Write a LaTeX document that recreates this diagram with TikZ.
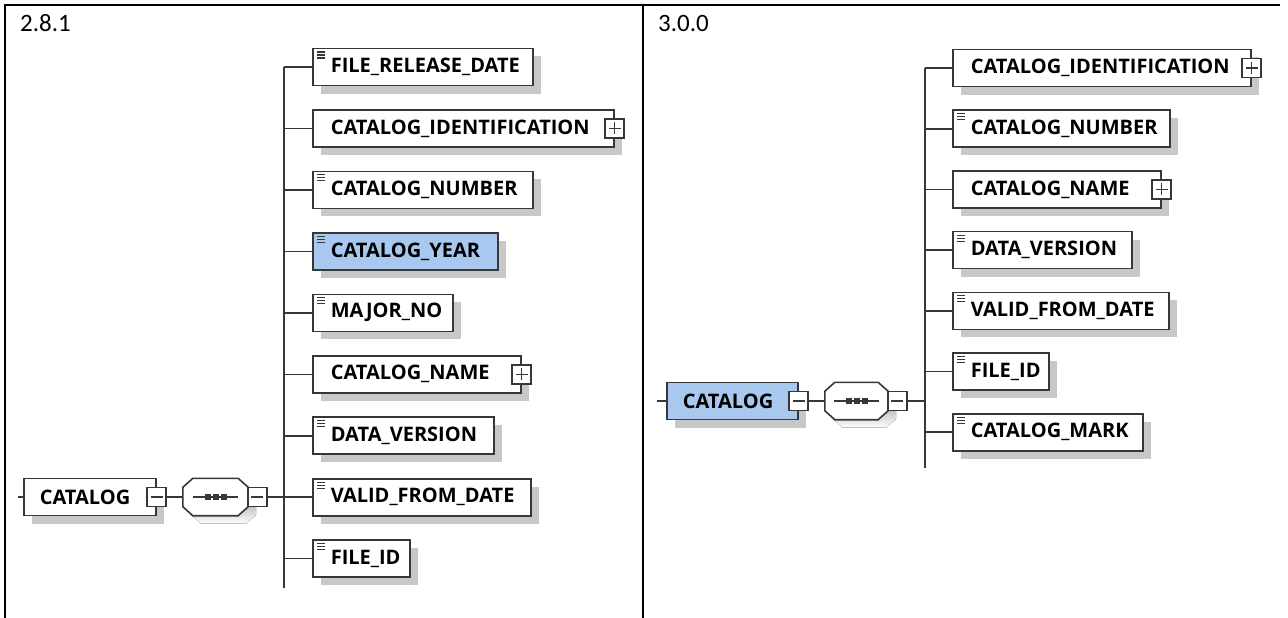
\documentclass[tikz,border=0pt]{standalone}
\usepackage{fontspec}
\setmainfont{Carlito}
\newfontfamily\elemfamily{Open Sans}
\usetikzlibrary{shadows}
\uchyph=0
\hyphenpenalty=10000
\definecolor{edge}{RGB}{55,55,55}
\definecolor{hl}{RGB}{168,200,240}
\definecolor{shade}{RGB}{200,200,200}
% octagon outline around node #1, shifted by (#2,#3)
\newcommand\octpath[3]{([xshift=#2+10pt,yshift=#3]#1.north west) -- ([xshift=#2-10pt,yshift=#3]#1.north east) -- ([xshift=#2,yshift=#3-9pt]#1.north east) -- ([xshift=#2,yshift=#3+9pt]#1.south east) -- ([xshift=#2-10pt,yshift=#3]#1.south east) -- ([xshift=#2+10pt,yshift=#3]#1.south west) -- ([xshift=#2,yshift=#3+9pt]#1.south west) -- ([xshift=#2,yshift=#3-9pt]#1.north west) -- cycle}
\newcommand\seqdraw[1]{%
  \fill[shade] \octpath{#1}{8pt}{-8pt};
  \filldraw[fill=white, draw=edge, line width=1.6] \octpath{#1}{0pt}{0pt};
  \draw[line width=1.5, edge] ([xshift=-22.5pt]#1.center) -- ([xshift=22.5pt]#1.center);
  \foreach \d in {-8,0,8}
    \fill[edge] ([xshift=\d pt-3pt,yshift=-3pt]#1.center) rectangle ([xshift=\d pt+3pt,yshift=3pt]#1.center);}
\tikzset{
  every picture/.style={x=1pt,y=-1pt},
  conn/.style={draw=edge, line width=1.6},
  frame/.style={draw=black, line width=2.4},
  title/.style={anchor=base west, inner sep=0, font=\fontsize{25}{30}\selectfont},
  shadowed/.style={drop shadow={shadow xshift=8pt, shadow yshift=-8pt, fill=shade, opacity=1}},
  elem/.style={draw=edge, line width=1.6, fill=white, minimum height=37, inner ysep=0,
    inner xsep=18, align=left, anchor=west, shadowed,
    font=\elemfamily\bfseries\fontsize{20}{22}\selectfont},
  root/.style={elem, inner xsep=16},
  hilite/.style={fill=hl},
  doc/.style={path picture={
    \foreach \k in {3.5,6.5,9.5}
      \draw[line width=1.1, edge] ([xshift=4pt,yshift=-\k pt]path picture bounding box.north west) -- ++(8pt,0);}},
  pmbox/.style={draw=edge, fill=white, line width=1.5, minimum size=19, inner sep=0},
  minus/.style={pmbox, path picture={
    \draw[line width=1.2, edge] ([xshift=3.5pt]path picture bounding box.west) -- ([xshift=-3.5pt]path picture bounding box.east);}},
  plus/.style={pmbox, path picture={
    \draw[line width=1.2, edge] ([xshift=3.5pt]path picture bounding box.west) -- ([xshift=-3.5pt]path picture bounding box.east);
    \draw[line width=1.2, edge] ([yshift=3.5pt]path picture bounding box.south) -- ([yshift=-3.5pt]path picture bounding box.north);}},
  seq/.style={draw=none, minimum width=65, minimum height=37, inner sep=0},
}
\begin{document}
\begin{tikzpicture}
\useasboundingbox (0,0) rectangle (1288,618);
% table frame
\draw[frame] (5,618) -- (5,5) -- (1280,5);
\draw[frame] (643,5) -- (643,618);
\node[title] (t1) at (20,32) {2.8.1};
\node[title] (t2) at (658,32) {3.0.0};

% ---------------- left panel (2.8.1)
\coordinate (lbtop) at (284,67);
\coordinate (lbbot) at (284,588);
\coordinate (lbj) at (284,497);
\draw[conn] (lbtop) -- (lbbot);

\node[elem, doc, text width=184pt] (l1) at (312,67) {FILE\_RELEASE\_DATE};
\node[elem, text width=265pt] (l2) at (312,128.4) {CATALOG\_IDENTIFICATION};
\node[plus] (l2p) at (l2.east) {};
\node[elem, doc, text width=184pt] (l3) at (312,189.9) {CATALOG\_NUMBER};
\node[elem, doc, hilite, text width=149pt] (l4) at (312,251.4) {CATALOG\_YEAR};
\node[elem, doc, text width=104pt] (l5) at (312,312.8) {MAJOR\_NO};
\node[elem, text width=172pt] (l6) at (312,374.3) {CATALOG\_NAME};
\node[plus] (l6p) at (l6.east) {};
\node[elem, doc, text width=145pt] (l7) at (312,435.7) {DATA\_VERSION};
\node[elem, doc, text width=182pt] (l8) at (312,497.2) {VALID\_FROM\_DATE};
\node[elem, doc, text width=61pt] (l9) at (312,558.6) {FILE\_ID};
\foreach \n in {l1,l2,l3,l4,l5,l6,l7,l8,l9}
  \draw[conn] (\n.west) -- (\n.west -| lbtop);

\node[root, text width=100pt] (lcat) at (23,497) {CATALOG};
\coordinate (lstub) at (18,497);
\draw[conn] (lstub) -- (lcat.west);
\node[minus] (lcatm) at (lcat.east) {};
\node[seq] (lseq) at (215.5,497) {};
\seqdraw{lseq}
\node[minus, anchor=west] (lseqm) at ([xshift=-1pt]lseq.east) {};
\draw[conn] (lcatm.east) -- (lseq.west);
\draw[conn] (lseqm.east) -- (lbj);

% ---------------- right panel (3.0.0)
\coordinate (rbtop) at (925,68);
\coordinate (rbbot) at (925,468);
\coordinate (rbj) at (925,401);
\draw[conn] (rbtop) -- (rbbot);

\node[elem, text width=262pt] (r1) at (952,68) {CATALOG\_IDENTIFICATION};
\node[plus] (r1p) at (r1.east) {};
\node[elem, doc, text width=181pt] (r2) at (952,128.7) {CATALOG\_NUMBER};
\node[elem, text width=172pt] (r3) at (952,189.4) {CATALOG\_NAME};
\node[plus] (r3p) at (r3.east) {};
\node[elem, doc, text width=143pt] (r4) at (952,250.1) {DATA\_VERSION};
\node[elem, doc, text width=180pt] (r5) at (952,310.8) {VALID\_FROM\_DATE};
\node[elem, doc, text width=60pt] (r6) at (952,371.5) {FILE\_ID};
\node[elem, doc, text width=154pt] (r7) at (952,432.2) {CATALOG\_MARK};
\foreach \n in {r1,r2,r3,r4,r5,r6,r7}
  \draw[conn] (\n.west) -- (\n.west -| rbtop);

\node[root, hilite, text width=99pt] (rcat) at (666,401) {CATALOG};
\coordinate (rstub) at (657,401);
\draw[conn] (rstub) -- (rcat.west);
\node[minus] (rcatm) at (rcat.east) {};
\node[seq, minimum width=63] (rseq) at (856.5,401) {};
\seqdraw{rseq}
\node[minus, anchor=west] (rseqm) at ([xshift=-1pt]rseq.east) {};
\draw[conn] (rcatm.east) -- (rseq.west);
\draw[conn] (rseqm.east) -- (rbj);
\end{tikzpicture}
\end{document}
